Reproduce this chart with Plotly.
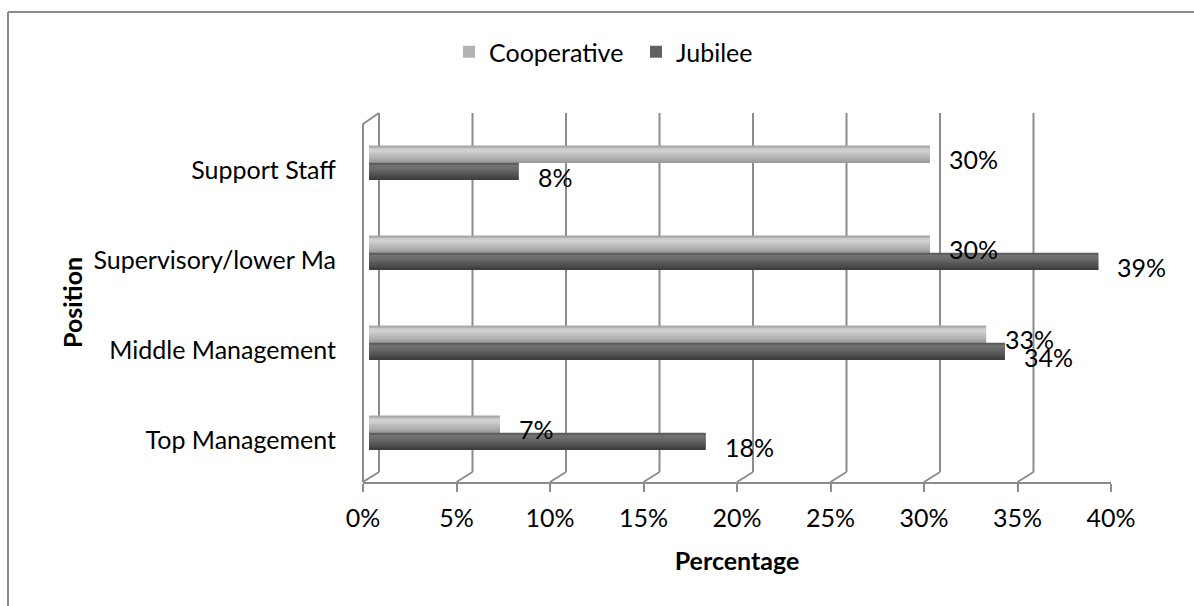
import plotly.graph_objects as go

# ---------------- data ----------------
CATEGORIES = ["Top Management", "Middle Management", "Supervisory/lower Ma", "Support Staff"]
COOPERATIVE = [7, 33, 30, 30]
JUBILEE = [18, 34, 39, 8]
TICKS = [0, 5, 10, 15, 20, 25, 30, 35, 40]
TICK_LABELS = [f"{t}%" for t in TICKS]
SERIES_NAMES = ["Cooperative", "Jubilee"]

# ---------------- geometry (pixels) ----------------
W, H = 1194, 606
PL, PR, PT, PB = 363, 1111, 113, 482
XMAX = 40
SCALE = (PR - PL) / XMAX          # px per percent
BAR_SHIFT = 6                     # bar plane offset (px) relative to front axis
BACK_DX, BACK_DY = 16, 10         # 3D depth offset of back wall
FONT = "Lato"
FS = 25
GRID = "#8c8c8c"


def px_x(px):
    return (px - PL) / (PR - PL)


def px_y(py):
    return (PB - py) / (PB - PT)


fig = go.Figure()

BW = 0.19
# shading bands, listed from top of the cylinder to bottom
COOP_SHADES = ["#a9a9a9", "#cbcbcb", "#d1d1d1", "#c9c9c9", "#bfbfbf", "#b5b5b5", "#aaaaaa", "#9d9d9d"]
JUB_SHADES = ["#5c5c5c", "#727272", "#6e6e6e", "#666666", "#5c5c5c", "#535353", "#494949", "#3e3e3e"]
series = [
    (SERIES_NAMES[0], COOPERATIVE, 0.0, "#b3b3b3", COOP_SHADES),
    (SERIES_NAMES[1], JUBILEE, -BW, "#606060", JUB_SHADES),
]
for name, vals, off, legend_col, shades in series:
    fig.add_trace(go.Bar(
        y=CATEGORIES, x=vals, orientation="h", name=name,
        xaxis="x2", yaxis="y", offset=off, width=BW,
        marker=dict(color=legend_col, line=dict(width=0)),
        hoverinfo="x+y",
    ))
    n = len(shades)
    bw = BW / n
    for i, col in enumerate(shades):
        fig.add_trace(go.Bar(
            y=CATEGORIES, x=vals, orientation="h", showlegend=False,
            xaxis="x2", yaxis="y", offset=off + BW - (i + 1) * bw, width=bw * 1.15,
            marker=dict(color=col, line=dict(width=0)), hoverinfo="skip",
        ))

# data labels
for vals, ysh in [(COOPERATIVE, 4), (JUBILEE, -14)]:
    for c, v in zip(CATEGORIES, vals):
        fig.add_annotation(
            x=v, y=c, xref="x2", yref="y", text=f"{v}%", showarrow=False,
            xanchor="left", yanchor="middle", xshift=17, yshift=ysh,
            font=dict(family=FONT, size=FS, color="#000000"),
        )

shapes = []
# back wall gridlines + floor slants
for t in TICKS:
    shapes.append(dict(type="line", xref="x", yref="paper", xsizemode="pixel",
                       xanchor=t, x0=BACK_DX, x1=BACK_DX,
                       y0=px_y(PB - BACK_DY), y1=px_y(PT),
                       line=dict(color=GRID, width=2), layer="below"))
    shapes.append(dict(type="line", xref="x", yref="paper", xsizemode="pixel",
                       xanchor=t, x0=0, x1=BACK_DX,
                       y0=px_y(PB), y1=px_y(PB - BACK_DY),
                       line=dict(color=GRID, width=2), layer="below"))
# left side wall
shapes.append(dict(type="line", xref="paper", yref="paper",
                   x0=0, x1=0, y0=px_y(PB), y1=px_y(PT + BACK_DY + 1),
                   line=dict(color=GRID, width=2), layer="below"))
shapes.append(dict(type="line", xref="paper", yref="paper",
                   x0=0, x1=px_x(PL + BACK_DX), y0=px_y(PT + BACK_DY + 1), y1=px_y(PT),
                   line=dict(color=GRID, width=2), layer="below"))
# chart outer border (top and left visible)
shapes.append(dict(type="line", xref="paper", yref="paper",
                   x0=px_x(8), x1=px_x(W + 20), y0=px_y(12), y1=px_y(12),
                   line=dict(color="#8a8a8a", width=2)))
shapes.append(dict(type="line", xref="paper", yref="paper",
                   x0=px_x(8), x1=px_x(8), y0=px_y(12), y1=px_y(H + 20),
                   line=dict(color="#8a8a8a", width=2)))

fig.update_layout(
    width=W, height=H,
    margin=dict(l=PL, r=W - PR, t=PT, b=H - PB, autoexpand=False),
    paper_bgcolor="white", plot_bgcolor="rgba(0,0,0,0)",
    barmode="overlay",
    font=dict(family=FONT, size=FS, color="#000000"),
    shapes=shapes,
    xaxis=dict(
        range=[0, XMAX], tickvals=TICKS, ticktext=TICK_LABELS,
        ticks="outside", ticklen=8, tickwidth=2, tickcolor=GRID,
        showline=True, linecolor=GRID, linewidth=2,
        showgrid=False, zeroline=False, ticklabelstandoff=5,
        title=dict(text="<b>Percentage</b>", font=dict(family=FONT, size=FS), standoff=21),
        fixedrange=True,
    ),
    xaxis2=dict(
        overlaying="x", visible=False,
        range=[-BAR_SHIFT / SCALE, XMAX - BAR_SHIFT / SCALE], fixedrange=True,
    ),
    yaxis=dict(
        type="category", categoryorder="array", categoryarray=CATEGORIES,
        range=[-0.5 - (PB - 478) / 90, 3.5 + (118 - PT) / 90],
        showline=False, showgrid=False, zeroline=False, ticks="",
        ticklabelshift=7, ticklabelstandoff=26, fixedrange=True,
    ),
    legend=dict(
        orientation="h", x=px_x(449), y=px_y(52), xanchor="left", yanchor="middle",
        font=dict(family=FONT, size=FS), bgcolor="rgba(0,0,0,0)",
        itemwidth=30, tracegroupgap=0, entrywidth=142, entrywidthmode="pixels",
    ),
    showlegend=True,
)

fig.add_annotation(
    text="<b>Position</b>", xref="paper", yref="paper", x=px_x(72), y=px_y(303),
    textangle=-90, showarrow=False, xanchor="center", yanchor="middle",
    font=dict(family=FONT, size=FS),
)

fig.write_html("out.html")
